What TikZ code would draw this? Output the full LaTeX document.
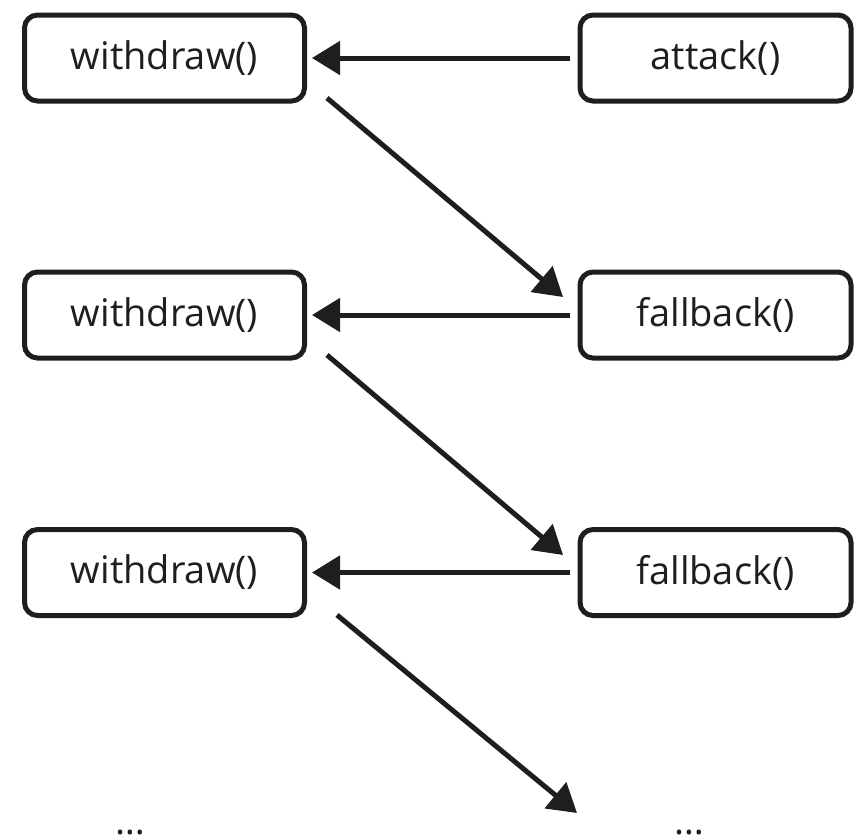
\documentclass[tikz,border=0pt]{standalone}
\usepackage{fontspec}
\setmainfont{Open Sans}
\usetikzlibrary{arrows.meta}
\definecolor{ink}{HTML}{1E1E1E}
\tikzset{
  x=1pt, y=1pt,
  callbox/.style={draw=ink, line width=5pt, rounded corners=13pt,
    minimum height=86pt, inner sep=0pt, font=\fontsize{38}{44}\selectfont,
    text=ink},
  leftbox/.style={callbox, minimum width=280pt},
  rightbox/.style={callbox, minimum width=271pt},
  flow/.style={draw=ink, line width=5pt,
    -{Triangle[length=28pt,width=33pt]}},
  dots/.style={font=\fontsize{38}{44}\selectfont, text=ink, anchor=base, inner sep=0pt}
}
\begin{document}
\begin{tikzpicture}
\useasboundingbox (0,0) rectangle (856,-839);

% call boxes
\node[leftbox]  (l1) at (164.5,-58)   {withdraw()};
\node[rightbox] (r1) at (715.5,-58)   {attack()};
\node[leftbox]  (l2) at (164.5,-315)  {withdraw()};
\node[rightbox] (r2) at (715.5,-315)  {fallback()};
\node[leftbox]  (l3) at (164.5,-572.5){withdraw()};
\node[rightbox] (r3) at (715.5,-572.5){fallback()};

% continuation marks
\node[dots] (m1) at (130.5,-834) {…};
\node[dots] (m2) at (689.5,-834) {…};

% returns to the left column
\draw[flow, shorten <=8pt, shorten >=5pt] (r1.west) -- (l1.east);
\draw[flow, shorten <=8pt, shorten >=5pt] (r2.west) -- (l2.east);
\draw[flow, shorten <=8pt, shorten >=5pt] (r3.west) -- (l3.east);

% diagonal hand-offs
\coordinate (a1) at (327,-98);
\coordinate (b1) at (563,-297);
\coordinate (a2) at (327,-355);
\coordinate (b2) at (563,-555);
\coordinate (a3) at (337,-615);
\coordinate (b3) at (577,-813);
\draw[flow] (a1) -- (b1);
\draw[flow] (a2) -- (b2);
\draw[flow] (a3) -- (b3);
\end{tikzpicture}
\end{document}
